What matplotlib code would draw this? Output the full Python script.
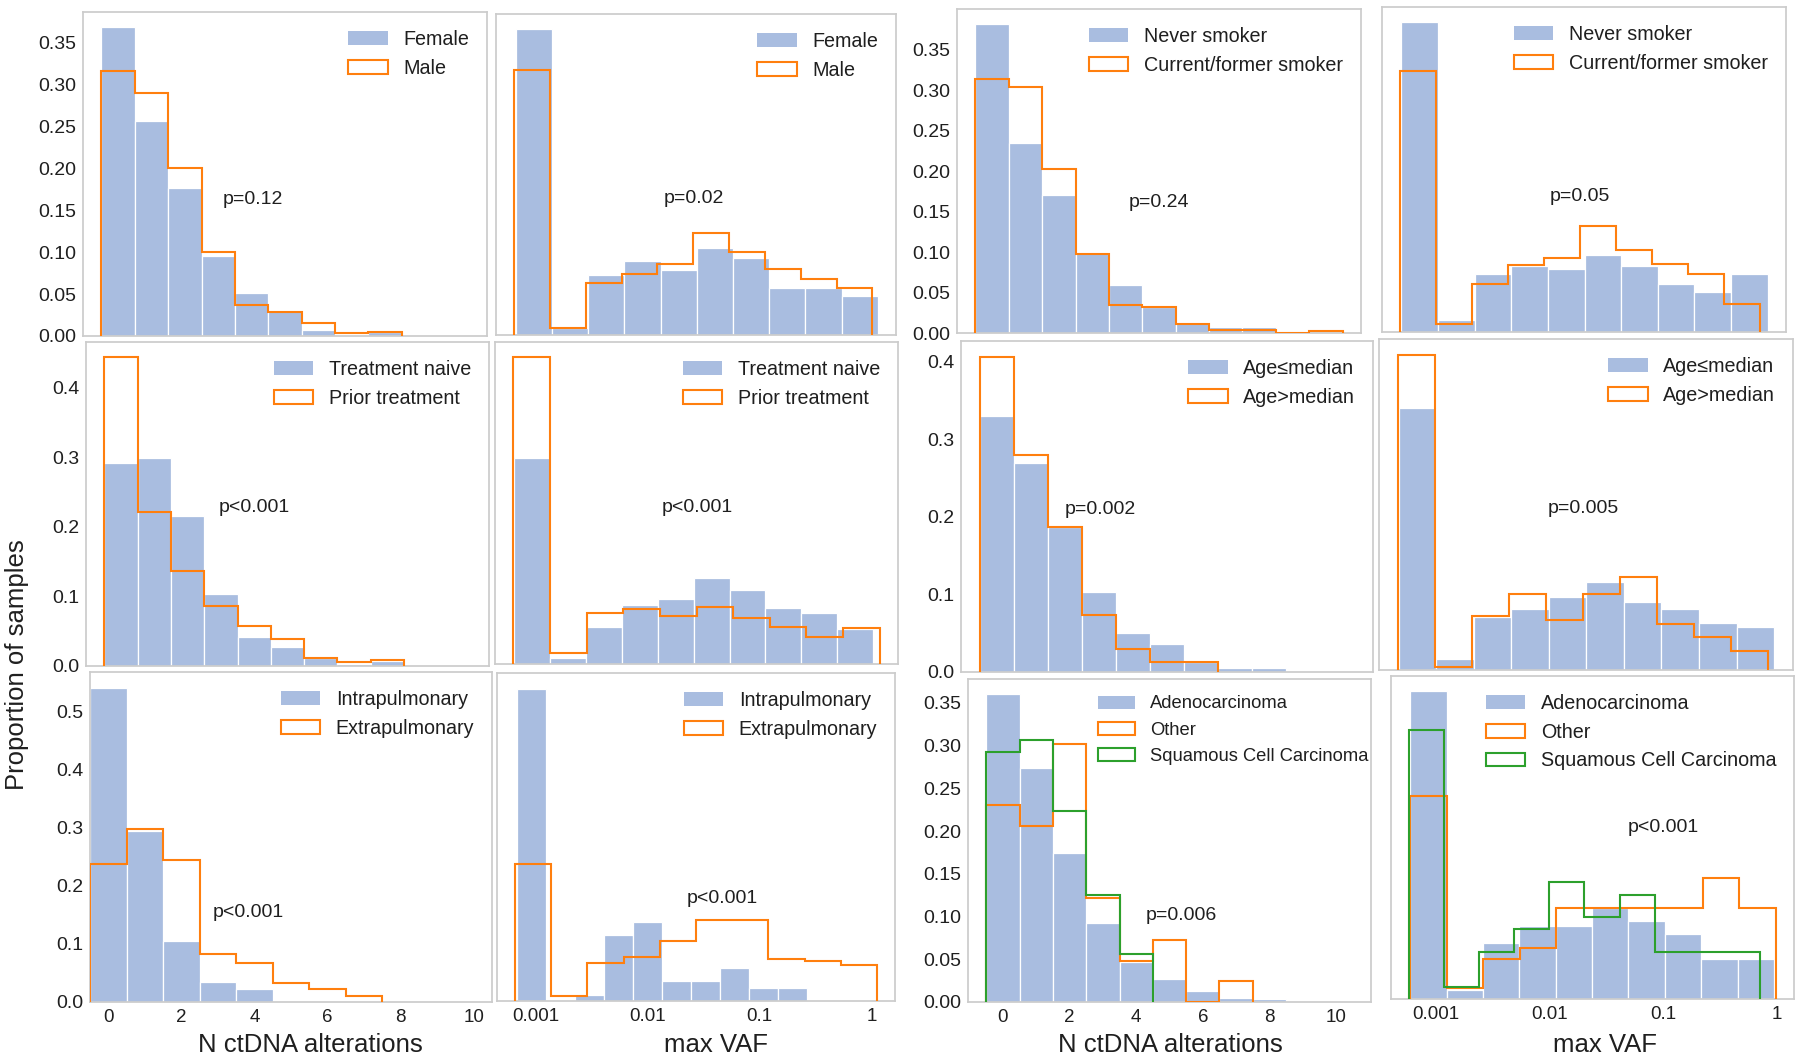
import numpy as np
import matplotlib
matplotlib.use('Agg')
import matplotlib.pyplot as plt
from matplotlib.patches import Patch
from matplotlib.ticker import FixedLocator, FormatStrFormatter

plt.rcParams['font.family'] = ['Liberation Sans', 'DejaVu Sans']

# ------------------------------------------------------------------ data
# N ctDNA alterations: proportion of samples per count bin (0, 1, 2, ...)
n_ticks = [0, 2, 4, 6, 8, 10]
# max VAF: tick values (axis is log10 of max VAF)
vaf_ticks = [0.001, 0.01, 0.1, 1]
vaf_tick_labels = ["0.001", "0.01", "0.1", "1"]
# y tick values for the N ctDNA panels
yt_fine = [0.00, 0.05, 0.10, 0.15, 0.20, 0.25, 0.30, 0.35]
yt_04 = [0.0, 0.1, 0.2, 0.3, 0.4]
yt_05 = [0.0, 0.1, 0.2, 0.3, 0.4, 0.5]

# --- Sex
female_n = [0.368, 0.256, 0.177, 0.095, 0.051, 0.030, 0.007, 0.0, 0.005, 0.0, 0.001]
male_n = [0.316, 0.290, 0.200, 0.100, 0.037, 0.029, 0.016, 0.003, 0.005]
female_vaf = [0.368, 0.008, 0.072, 0.089, 0.078, 0.105, 0.093, 0.056, 0.056, 0.047]
female_vaf_range = (-3.176, 0.059)   # log10 VAF span of the 10 bins
male_vaf = [0.319, 0.009, 0.062, 0.074, 0.085, 0.123, 0.100, 0.079, 0.068, 0.056]
male_vaf_range = (-3.189, 0.011)

# --- Treatment
naive_n = [0.291, 0.298, 0.216, 0.104, 0.042, 0.027, 0.012, 0.003, 0.007]
prior_n = [0.443, 0.2205, 0.136, 0.086, 0.057, 0.039, 0.011, 0.006, 0.008]
naive_vaf = [0.298, 0.008, 0.054, 0.085, 0.094, 0.124, 0.107, 0.081, 0.074, 0.051]
naive_vaf_range = (-3.189, 0.020)
prior_vaf = [0.443, 0.016, 0.074, 0.080, 0.070, 0.082, 0.067, 0.054, 0.039, 0.052]
prior_vaf_range = (-3.198, 0.080)

# --- Site
intra_n = [0.541, 0.294, 0.105, 0.034, 0.023]
extra_n = [0.237, 0.297, 0.245, 0.083, 0.067, 0.032, 0.023, 0.011]
intra_vaf = [0.541, 0.0, 0.011, 0.115, 0.137, 0.034, 0.034, 0.057, 0.0225, 0.0225]
intra_vaf_range = (-3.176, -0.573)
extra_vaf = [0.237, 0.008, 0.066, 0.077, 0.104, 0.140, 0.140, 0.073, 0.069, 0.062]
extra_vaf_range = (-3.189, 0.050)

# --- Smoking
never_n = [0.381, 0.234, 0.1705, 0.0986, 0.0596, 0.0325, 0.013, 0.0078, 0.0078, 0.0, 0.0]
current_n = [0.314, 0.304, 0.202, 0.098, 0.035, 0.032, 0.011, 0.004, 0.004, 0.0, 0.002]
never_vaf = [0.381, 0.0144, 0.072, 0.0815, 0.078, 0.095, 0.0815, 0.0588, 0.049, 0.072]
never_vaf_range = (-3.304, -0.079)
current_vaf = [0.321, 0.0095, 0.0588, 0.082, 0.091, 0.130, 0.101, 0.084, 0.072, 0.035]
current_vaf_range = (-3.313, -0.150)

# --- Age
young_n = [0.330, 0.269, 0.187, 0.103, 0.050, 0.036, 0.013, 0.005, 0.005]
old_n = [0.406, 0.279, 0.187, 0.073, 0.030, 0.013, 0.013]
young_vaf = [0.337, 0.014, 0.068, 0.079, 0.094, 0.113, 0.087, 0.079, 0.060, 0.056]
young_vaf_range = (-3.321, -0.026)
old_vaf = [0.406, 0.0034, 0.069, 0.098, 0.064, 0.098, 0.120, 0.059, 0.043, 0.025]
old_vaf_range = (-3.327, -0.079)

# --- Histology
adeno_n = [0.360, 0.274, 0.174, 0.0928, 0.0468, 0.0273, 0.0129, 0.0047, 0.0031]
other_n = [0.230, 0.2054, 0.302, 0.1216, 0.048, 0.0729, 0.0, 0.0242]
squam_n = [0.293, 0.3067, 0.223, 0.1255, 0.0557]
adeno_vaf = [0.360, 0.010, 0.066, 0.086, 0.086, 0.106, 0.0907, 0.0763, 0.0467, 0.0467]
adeno_vaf_range = (-3.225, -0.026)
other_vaf = [0.237, 0.0128, 0.047, 0.0596, 0.106, 0.106, 0.106, 0.106, 0.142, 0.106]
other_vaf_range = (-3.225, -0.011)
squam_vaf = [0.3145, 0.0136, 0.0549, 0.0821, 0.1366, 0.0958, 0.1218, 0.0549, 0.0549, 0.0549]
squam_vaf_range = (-3.233, -0.152)

# ------------------------------------------------------------------ style
W, H = 1800, 1060
fig = plt.figure(figsize=(W / 100, H / 100), dpi=100)
fig.patch.set_facecolor('white')

BLUE = '#a9bde0'
ORANGE = '#ff7f0e'
GREEN = '#2ca02c'
SPINE = '#cccccc'
TXT = '#1f1f1f'


def add_ax(x0, x1, y0, y1):
    return fig.add_axes([x0 / W, 1 - y1 / H, (x1 - x0) / W, (y1 - y0) / H])


def style(ax):
    for s in ax.spines.values():
        s.set_color(SPINE)
        s.set_linewidth(1.25)
    ax.set_facecolor('white')
    ax.tick_params(length=0, colors=TXT)
    ax.tick_params(axis='y', labelsize=14, pad=5)
    ax.tick_params(axis='x', labelsize=13.5, pad=5)


def n_edges(vals):
    return np.arange(len(vals) + 1) - 0.5


def vaf_edges(vals, rng):
    return np.linspace(rng[0], rng[1], len(vals) + 1)


def draw(ax, series, labels, legend_fs=14.2, legend_anchor=(1, 1)):
    colors = [BLUE, ORANGE, GREEN]
    handles = []
    for i, (vals, edges) in enumerate(series):
        if i == 0:
            ax.bar(edges[:-1], vals, width=np.diff(edges), align='edge',
                   color=BLUE, edgecolor='white', linewidth=0.9, zorder=1)
            handles.append(Patch(facecolor=BLUE, edgecolor='none'))
        else:
            ax.stairs(vals, edges, baseline=0, fill=False, color=colors[i],
                      linewidth=1.5, zorder=2 + i)
            handles.append(Patch(facecolor='white', edgecolor=colors[i], linewidth=1.5))
    ax.legend(handles, labels, loc='upper right', bbox_to_anchor=legend_anchor,
              frameon=False, fontsize=legend_fs, labelcolor=TXT)


def ptext(x, y, s):
    fig.text(x / W, 1 - y / H, s, ha='center', va='baseline', fontsize=14, color=TXT)


# panel rectangles (pixels: left, right, top, bottom)
rects = {
    (0, 0): (83, 487, 12, 336), (0, 1): (496, 896, 14, 335),
    (0, 2): (957, 1361, 9, 333), (0, 3): (1382, 1786, 7, 332),
    (1, 0): (86, 489, 342, 666), (1, 1): (495, 898, 342, 664),
    (1, 2): (961, 1373, 341, 672), (1, 3): (1379, 1793, 339, 670),
    (2, 0): (90, 492, 672, 1002), (2, 1): (497, 895, 673, 1001),
    (2, 2): (968, 1371, 679, 1002), (2, 3): (1391, 1794, 676, 999),
}

panels_n = {
    (0, 0): ([female_n, male_n], ["Female", "Male"], yt_fine),
    (1, 0): ([naive_n, prior_n], ["Treatment naive", "Prior treatment"], yt_04),
    (2, 0): ([intra_n, extra_n], ["Intrapulmonary", "Extrapulmonary"], yt_05),
    (0, 2): ([never_n, current_n], ["Never smoker", "Current/former smoker"], yt_fine),
    (1, 2): ([young_n, old_n], ["Age\u2264median", "Age>median"], yt_04),
    (2, 2): ([adeno_n, other_n, squam_n], ["Adenocarcinoma", "Other", "Squamous Cell Carcinoma"], yt_fine),
}
panels_vaf = {
    (0, 1): ([(female_vaf, female_vaf_range), (male_vaf, male_vaf_range)], ["Female", "Male"]),
    (1, 1): ([(naive_vaf, naive_vaf_range), (prior_vaf, prior_vaf_range)], ["Treatment naive", "Prior treatment"]),
    (2, 1): ([(intra_vaf, intra_vaf_range), (extra_vaf, extra_vaf_range)], ["Intrapulmonary", "Extrapulmonary"]),
    (0, 3): ([(never_vaf, never_vaf_range), (current_vaf, current_vaf_range)], ["Never smoker", "Current/former smoker"]),
    (1, 3): ([(young_vaf, young_vaf_range), (old_vaf, old_vaf_range)], ["Age\u2264median", "Age>median"]),
    (2, 3): ([(adeno_vaf, adeno_vaf_range), (other_vaf, other_vaf_range), (squam_vaf, squam_vaf_range)],
             ["Adenocarcinoma", "Other", "Squamous Cell Carcinoma"]),
}

for key, (vals_list, labels, yt) in panels_n.items():
    ax = add_ax(*rects[key])
    style(ax)
    series = [(v, n_edges(v)) for v in vals_list]
    if key == (2, 2):
        draw(ax, series, labels, legend_fs=13.2, legend_anchor=(1.034, 1))
    else:
        draw(ax, series, labels)
    ax.set_xlim((-0.5, 10.5) if key == (2, 0) else (-1.05, 11.05))
    ax.yaxis.set_major_locator(FixedLocator(yt))
    ax.yaxis.set_major_formatter(FormatStrFormatter('%.2f' if yt is yt_fine else '%.1f'))
    ax.set_xticks(n_ticks)
    if key[0] != 2:
        ax.tick_params(labelbottom=False)

for key, (spec, labels) in panels_vaf.items():
    ax = add_ax(*rects[key])
    style(ax)
    series = [(v, vaf_edges(v, r)) for v, r in spec]
    draw(ax, series, labels)
    ax.set_yticks([])
    ax.set_xticks(np.log10(vaf_ticks))
    ax.set_xticklabels(vaf_tick_labels)
    if key[0] != 2:
        ax.tick_params(labelbottom=False)

# p-values
ptext(253, 204, "p=0.12")
ptext(694, 203, "p=0.02")
ptext(1159, 207, "p=0.24")
ptext(1580, 201, "p=0.05")
ptext(254, 512, "p<0.001")
ptext(697, 512, "p<0.001")
ptext(1100, 514, "p=0.002")
ptext(1583, 513, "p=0.005")
ptext(248, 917, "p<0.001")
ptext(722, 903, "p<0.001")
ptext(1181, 920, "p=0.006")
ptext(1663, 832, "p<0.001")

# axis labels
for x, s in [(310, "N ctDNA alterations"), (716, "max VAF"),
             (1170, "N ctDNA alterations"), (1605, "max VAF")]:
    fig.text(x / W, 1 - 1052 / H, s, ha='center', va='baseline', fontsize=18.5, color=TXT)
fig.text(17 / W, 1 - 665 / H, "Proportion of samples", rotation=90,
         ha='center', va='center', fontsize=18.5, color=TXT)

fig.savefig('out.png', dpi=100, facecolor='white')
